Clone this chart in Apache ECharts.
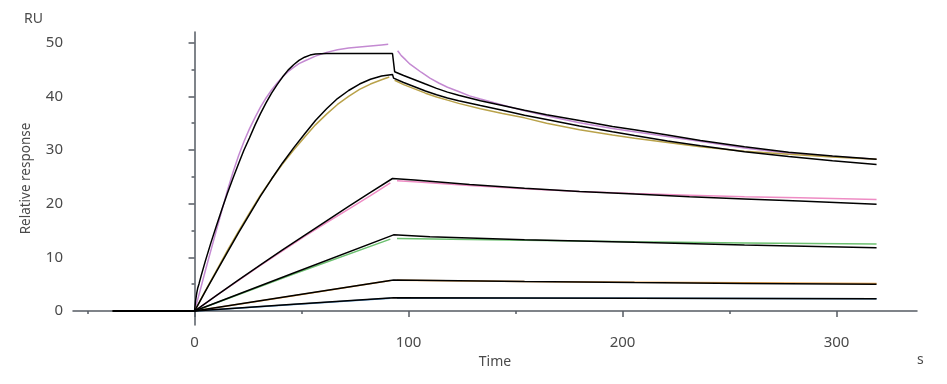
<!DOCTYPE html>
<html>
<head>
<meta charset="utf-8">
<script src="https://cdn.jsdelivr.net/npm/echarts@6/dist/echarts.min.js"></script>
<style>
html,body{margin:0;padding:0;background:#fff;}
#c{width:947px;height:384px;}
</style>
</head>
<body>
<div id="c"></div>
<script>
// ---- tick values ----
const xMajorTicks = [0, 100, 200, 300];
const xMinorTicks = [-50, 50, 150, 250];
const yMajorTicks = [0, 10, 20, 30, 40, 50];
const yMinorTicks = [5, 15, 25, 35, 45];
const baseline = [[-38.2, 0], [0, 0]];

// ---- curve 1 (highest concentration) ----
const fit1Assoc = [[0,0],[0.5,2],[1,3.3],[1.5,4.3],[2.1,5.1],[3.1,6.6],[4.1,8],[5.1,9.4],[7.7,12.8],[10.3,16],[12.9,19.1],[15.4,22],[18,24.8],[20.6,27.5],[23.1,30],[25.7,32.3],[28.3,34.7],[30.8,36.8],[33.4,38.8],[36,40.6],[38.6,42.2],[41.1,43.6],[43.7,44.9],[46.3,45.9],[48.8,46.7],[51.4,47.3],[54,47.7],[56.5,47.9],[61.7,48],[92.5,48]];
const fit1Dissoc = [[93.5,44.6],[97.7,43.9],[102.8,43.1],[107.9,42.3],[113.1,41.5],[118.2,40.8],[123.4,40.2],[133.6,39.2],[143.9,38.3],[154.2,37.4],[164.5,36.6],[179.9,35.5],[195.3,34.4],[205.6,33.8],[221,32.8],[236.4,31.8],[257,30.6],[277.6,29.6],[298.1,28.9],[318.7,28.3]];
const data1Assoc = [[0,0],[2.6,3.8],[5.1,7.6],[7.7,11.4],[10.3,15.2],[12.9,18.9],[15.4,22.5],[18,25.9],[20.6,29],[23.1,31.6],[25.7,34],[28.3,36.1],[30.8,38],[33.4,39.7],[36,41.2],[38.6,42.5],[41.1,43.6],[43.7,44.6],[46.3,45.4],[48.8,46.1],[51.4,46.6],[56.5,47.5],[61.7,48.2],[66.8,48.7],[72,49],[77.1,49.2],[82.2,49.4],[87.4,49.6],[90.5,49.7]];
const data1Dissoc = [[94.9,48.5],[96.6,47.6],[98.7,46.8],[100.7,46.0],[102.8,45.4],[105.9,44.5],[110,43.4],[114.1,42.5],[118.2,41.7],[123.4,40.9],[128.5,40.1],[133.6,39.5],[143.9,38.4],[154.2,37.3],[166.5,36.2],[179.9,35.1],[195.3,34.0],[205.6,33.4],[231.3,31.9],[257,30.4],[277.6,29.4],[298.1,28.8],[318.7,28.3]];

// ---- curve 2 ----
const fit2Assoc = [[0,0],[5.1,3.7],[10.3,7.4],[15.4,11],[20.6,14.6],[25.7,18],[30.8,21.4],[36,24.6],[41.1,27.6],[46.3,30.4],[51.4,33],[56.5,35.5],[61.7,37.7],[66.8,39.6],[72,41.1],[77.1,42.3],[82.2,43.2],[87.4,43.8],[92.5,44.1]];
const fit2Dissoc = [[93,43.4],[97.7,42.6],[102.8,41.8],[107.9,41],[113.1,40.3],[118.2,39.7],[123.4,39.2],[133.6,38.3],[143.9,37.4],[154.2,36.5],[164.5,35.7],[179.9,34.5],[195.3,33.4],[205.6,32.7],[221,31.7],[236.4,30.8],[257,29.7],[277.6,28.8],[298.1,28.0],[318.7,27.3]];
const data2Assoc = [[0,0],[5.1,3.8],[10.3,7.6],[15.4,11.3],[20.6,14.9],[25.7,18.3],[30.8,21.6],[36,24.6],[41.1,27.4],[46.3,30],[51.4,32.4],[56.5,34.7],[61.7,36.7],[66.8,38.5],[72,40.0],[77.1,41.3],[82.2,42.3],[87.4,43.1],[91,43.6]];
const data2Dissoc = [[93.5,43.0],[97.7,42.2],[102.8,41.4],[107.9,40.6],[113.1,39.9],[118.2,39.3],[123.4,38.7],[133.6,37.7],[143.9,36.8],[154.2,36.0],[164.5,35.0],[179.9,33.8],[195.3,32.8],[205.6,32.2],[221,31.4],[236.4,30.6],[257,29.8],[277.6,29.2],[298.1,28.7],[318.7,28.3]];

// ---- curve 3 ----
const fit3Assoc = [[0,0],[10.3,2.9],[20.6,5.8],[30.8,8.6],[41.1,11.4],[51.4,14.1],[61.7,16.8],[72,19.5],[82.2,22.1],[92.5,24.7]];
const fit3Dissoc = [[102.8,24.4],[128.5,23.6],[154.2,22.9],[179.9,22.3],[205.6,21.8],[231.3,21.3],[257,20.9],[282.7,20.5],[318.7,19.9]];
const data3Assoc = [[0,0],[10.3,2.9],[20.6,5.7],[30.8,8.5],[41.1,11.2],[51.4,13.9],[61.7,16.5],[72,19],[82.2,21.5],[91.5,23.9]];
const data3Dissoc = [[94.6,24.3],[102.8,24.1],[128.5,23.4],[154.2,22.8],[179.9,22.3],[205.6,21.9],[231.3,21.6],[257,21.3],[282.7,21.1],[318.7,20.8]];

// ---- curve 4 ----
const fit4Assoc = [[0,0],[46.3,7.1],[93,14.2]];
const fit4Dissoc = [[110,13.85],[154.2,13.3],[205.6,12.8],[257,12.3],[318.7,11.8]];
const data4Assoc = [[0,0],[46.3,6.9],[91.5,13.4]];
const data4Dissoc = [[94.6,13.5],[154.2,13.2],[205.6,12.9],[257,12.7],[318.7,12.5]];

// ---- curve 5 ----
const fit5Assoc = [[0,0],[46.3,2.9],[93,5.8]];
const fit5Dissoc = [[154.2,5.5],[205.6,5.3],[257,5.15],[318.7,5.0]];
const data5Assoc = [[0,0],[46.3,2.85],[91.5,5.7]];
const data5Dissoc = [[94.6,5.75],[154.2,5.5],[205.6,5.35],[257,5.25],[318.7,5.15]];

// ---- curve 6 ----
const fit6Assoc = [[0,0],[46.3,1.25],[93,2.5]];
const fit6Dissoc = [[205.6,2.4],[318.7,2.3]];
const data6Assoc = [[0,0],[46.3,1.2],[91.5,2.4]];
const data6Dissoc = [[94.6,2.45],[205.6,2.4],[318.7,2.3]];

const dataColors = ['#c48ad2', '#b9a24a', '#ee8cc4', '#6cc070', '#e8a048', '#4a88c0'];

const fits = [
  [fit1Assoc, fit1Dissoc], [fit2Assoc, fit2Dissoc], [fit3Assoc, fit3Dissoc],
  [fit4Assoc, fit4Dissoc], [fit5Assoc, fit5Dissoc], [fit6Assoc, fit6Dissoc]
];
const measured = [
  [data1Assoc, data1Dissoc], [data2Assoc, data2Dissoc], [data3Assoc, data3Dissoc],
  [data4Assoc, data4Dissoc], [data5Assoc, data5Dissoc], [data6Assoc, data6Dissoc]
];

const series = [];
measured.forEach((m, i) => {
  series.push({
    type: 'line', showSymbol: false, smooth: false,
    data: baseline.concat(m[0], [[null, null]], m[1]),
    connectNulls: false,
    lineStyle: { color: dataColors[i], width: 1.5 },
    z: 2
  });
});
fits.forEach((f) => {
  series.push({
    type: 'line', showSymbol: false, smooth: false,
    data: baseline.concat(f[0], f[1]),
    lineStyle: { color: '#000', width: 1.5 },
    z: 3
  });
});

const axisColor = '#555b63';
const labelStyle = { color: '#4a4a4a', fontSize: 15, fontFamily: 'Noto Sans' };
const X_MIN = -56.8, X_MAX = 337.6, Y_MIN = -2.6, Y_MAX = 52;

const chart = echarts.init(document.getElementById('c'), null, { renderer: 'canvas' });
chart.setOption({
  animation: false,
  backgroundColor: '#fff',
  grid: { left: 73, right: 30, top: 32, bottom: 59, containLabel: false },
  xAxis: [
    {
      type: 'value', min: X_MIN, max: X_MAX, position: 'bottom',
      name: 'Time', nameLocation: 'middle', nameGap: 27,
      nameTextStyle: { color: '#4a4a4a', fontSize: 14, fontFamily: 'Noto Sans' },
      axisLine: { show: true, lineStyle: { color: axisColor, width: 1.5 } },
      axisTick: { show: true, length: 6, customValues: xMajorTicks, lineStyle: { color: axisColor, width: 1.5 } },
      axisLabel: Object.assign({ customValues: xMajorTicks, margin: 10 }, labelStyle),
      splitLine: { show: false }
    },
    {
      type: 'value', min: X_MIN, max: X_MAX, position: 'bottom',
      axisLine: { show: false },
      axisTick: { show: true, length: 3, customValues: xMinorTicks, lineStyle: { color: axisColor, width: 1.5 } },
      axisLabel: { show: false, customValues: xMinorTicks },
      splitLine: { show: false }
    }
  ],
  yAxis: [
    {
      type: 'value', min: Y_MIN, max: Y_MAX, position: 'left',
      name: 'Relative response', nameLocation: 'middle', nameGap: 40, nameRotate: 90,
      nameTextStyle: { color: '#4a4a4a', fontSize: 13.5, fontFamily: 'Noto Sans' },
      axisLine: { show: true, lineStyle: { color: axisColor, width: 1.5 } },
      axisTick: { show: true, length: 6, customValues: yMajorTicks, lineStyle: { color: axisColor, width: 1.5 } },
      axisLabel: Object.assign({ customValues: yMajorTicks, margin: 10 }, labelStyle),
      splitLine: { show: false }
    },
    {
      type: 'value', min: Y_MIN, max: Y_MAX, position: 'left',
      axisLine: { show: false },
      axisTick: { show: true, length: 3, customValues: yMinorTicks, lineStyle: { color: axisColor, width: 1.5 } },
      axisLabel: { show: false, customValues: yMinorTicks },
      splitLine: { show: false }
    }
  ],
  graphic: [
    { type: 'text', left: 24, top: 12, style: { text: 'RU', fill: '#4a4a4a', font: '14px "Noto Sans"' } },
    { type: 'text', left: 917, top: 353, style: { text: 's', fill: '#4a4a4a', font: '14px "Noto Sans"' } }
  ],
  series: series
});
</script>
</body>
</html>
